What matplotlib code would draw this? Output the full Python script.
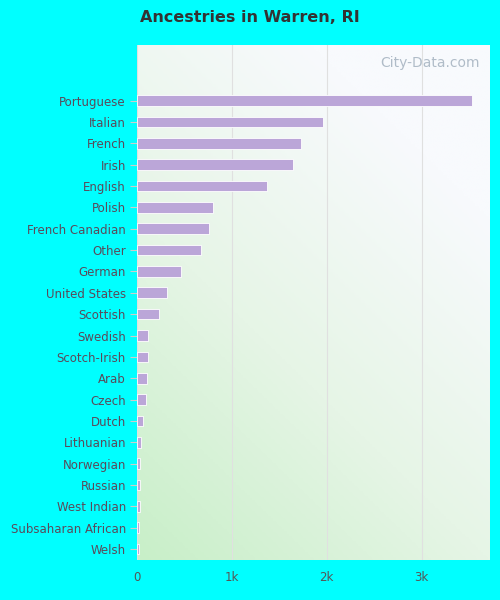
import numpy as np
import matplotlib.pyplot as plt
from matplotlib.colors import LinearSegmentedColormap

categories = ["Portuguese", "Italian", "French", "Irish", "English", "Polish",
              "French Canadian", "Other", "German", "United States", "Scottish",
              "Swedish", "Scotch-Irish", "Arab", "Czech", "Dutch", "Lithuanian",
              "Norwegian", "Russian", "West Indian", "Subsaharan African", "Welsh"]
values = [3526, 1958, 1726, 1642, 1368, 800, 758, 674, 463, 316, 232,
          116, 116, 105, 95, 63, 42, 36, 35, 30, 26, 26]
xticks = [0, 1000, 2000, 3000]
xticklabels = ["0", "1k", "2k", "3k"]

fig = plt.figure(figsize=(5, 6), dpi=100, facecolor="#00ffff")
ax = fig.add_axes([0.274, 0.067, 0.706, 0.858])

# gradient background: green bottom-left to white top-right
gx, gy = np.meshgrid(np.linspace(0, 1, 200), np.linspace(0, 1, 200))
g = np.clip((gx * 0.6 + gy * 0.9) / 1.2, 0, 1)
cmap = LinearSegmentedColormap.from_list("bg", ["#c8efc8", "#e6f5e6", "#f8fafd"])
ax.imshow(g, cmap=cmap, origin="lower", extent=[0, 1, 0, 1],
          transform=ax.transAxes, aspect="auto", zorder=0)

n = len(categories)
y = np.arange(n)
ax.barh(y, values, height=0.5, color="#bba6d8", edgecolor="white",
        linewidth=0.6, zorder=2)
ax.set_ylim(n - 0.5, -2.6)
ax.set_xlim(0, 3720)
ax.set_yticks(y)
ax.set_yticklabels(categories, fontsize=8.5, color="#5a4a5a")
ax.set_xticks(xticks)
ax.set_xticklabels(xticklabels, fontsize=8.5, color="#555555")
ax.xaxis.grid(True, color="#e0e0e0", linewidth=0.8, zorder=1)
ax.set_axisbelow(True)
for s in ax.spines.values():
    s.set_visible(False)
ax.tick_params(axis="y", length=5, color="#cccccc", pad=3)
ax.tick_params(axis="x", length=0, pad=8)

fig.text(0.5, 0.97, "Ancestries in Warren, RI", ha="center", va="center",
         fontsize=11.5, fontweight="bold", color="#333333")
ax.text(0.97, 0.965, "City-Data.com", transform=ax.transAxes, ha="right",
        va="center", fontsize=10, color="#b0bcc8", zorder=3)

fig.savefig("out.png", facecolor=fig.get_facecolor())
